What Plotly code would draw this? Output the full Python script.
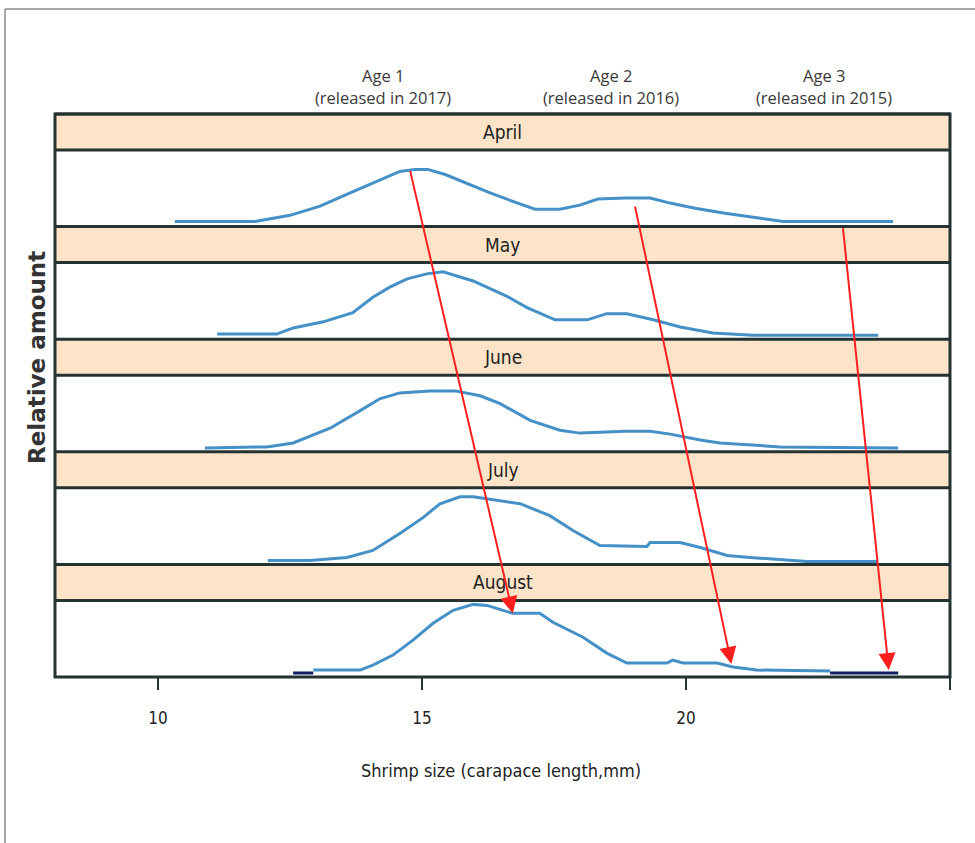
import plotly.graph_objects as go

# ---------------- data ----------------
months = ["April", "May", "June", "July", "August"]

april_x = [10.32, 11.84, 12.50, 13.07, 13.64, 14.20, 14.58, 14.87, 15.11, 15.44, 15.81, 16.29, 16.76,
           17.14, 17.61, 17.99, 18.33, 18.84, 19.32, 19.70, 20.17, 20.74, 21.31, 21.84, 23.92]
april_y = [0.067, 0.067, 0.147, 0.267, 0.44, 0.613, 0.72, 0.747, 0.747, 0.68, 0.573, 0.44, 0.32,
           0.227, 0.227, 0.28, 0.36, 0.373, 0.373, 0.307, 0.24, 0.173, 0.12, 0.067, 0.067]

may_x = [11.12, 12.25, 12.56, 13.13, 13.69, 14.07, 14.39, 14.72, 15.09, 15.40, 15.97, 16.61, 16.99,
         17.52, 18.13, 18.50, 18.88, 19.38, 19.89, 20.51, 21.27, 23.64]
may_y = [0.067, 0.067, 0.147, 0.227, 0.347, 0.547, 0.68, 0.787, 0.853, 0.88, 0.76, 0.56, 0.413,
         0.253, 0.253, 0.333, 0.333, 0.253, 0.16, 0.08, 0.053, 0.053]

june_x = [10.89, 12.06, 12.56, 13.26, 13.83, 14.20, 14.58, 15.15, 15.63, 16.10, 16.48, 17.05, 17.61,
          17.99, 18.37, 18.84, 19.32, 19.70, 20.27, 20.64, 21.78, 24.02]
june_y = [0.051, 0.064, 0.115, 0.308, 0.538, 0.692, 0.769, 0.795, 0.795, 0.731, 0.628, 0.41, 0.282,
          0.244, 0.256, 0.269, 0.269, 0.231, 0.154, 0.115, 0.064, 0.051]

july_x = [12.08, 12.88, 13.58, 14.07, 14.58, 15.02, 15.34, 15.72, 15.97, 16.48, 16.86, 17.42, 17.86,
          18.37, 19.26, 19.32, 19.89, 20.27, 20.78, 21.21, 22.29, 23.62]
july_y = [0.052, 0.052, 0.091, 0.182, 0.403, 0.61, 0.792, 0.883, 0.883, 0.831, 0.792, 0.636, 0.442,
          0.247, 0.234, 0.286, 0.286, 0.221, 0.117, 0.091, 0.039, 0.039]

august_x = [12.94, 13.83, 14.07, 14.45, 14.83, 15.21, 15.59, 15.97, 16.23, 16.72, 17.23, 17.48, 18.05,
            18.50, 18.88, 19.64, 19.75, 19.94, 20.59, 20.89, 21.34, 22.73]
august_y = [0.091, 0.091, 0.156, 0.286, 0.481, 0.701, 0.870, 0.948, 0.935, 0.831, 0.831, 0.714, 0.519,
            0.312, 0.182, 0.182, 0.221, 0.182, 0.182, 0.130, 0.091, 0.078]

# dark segments at the ends of the August curve
august_dark_left_x = [12.56, 12.94]
august_dark_left_y = [0.052, 0.052]
august_dark_right_x = [22.73, 24.02]
august_dark_right_y = [0.052, 0.052]

series_x = [april_x, may_x, june_x, july_x, august_x]
series_y = [april_y, may_y, june_y, july_y, august_y]

# arrows: tail in April panel, head in August panel
arrow_tail_x = [14.77, 19.03, 22.97]
arrow_tail_v = [0.747, 0.28, 0.0]
arrow_head_x = [16.72, 20.86, 23.84]
arrow_head_v = [0.83, 0.17, 0.09]
arrow_tail_panel = [0, 0, 0]
arrow_head_panel = [4, 4, 4]

age_labels = ["Age 1", "Age 2", "Age 3"]
age_sub = ["(released in 2017)", "(released in 2016)", "(released in 2015)"]
age_x = [14.26, 18.58, 22.61]

tick_vals = [10, 15, 20, 25]
tick_text = ["10", "15", "20", ""]
x_range = [8.05, 25.0]

# ---------------- layout geometry ----------------
W, H = 975, 843
M_L, M_R, M_T, M_B = 55, 25, 114, 166
PW = W - M_L - M_R
PH = H - M_T - M_B

def py2paper(py):
    return (H - M_B - py) / PH

def px2paper(px):
    return (px - M_L) / PW

def clamp(v):
    return min(1.0, max(0.0, round(v, 6)))

n = len(months)
unit = 1.0 / n
strip = 36.0 / PH

BLUE = "#4590c6"
NAVY = "#0c1f5e"
PEACH = "#fde4c8"
DARK = "#243232"
RED = "#ff1f1f"
NARROW = "DejaVu Sans Condensed, Liberation Sans Narrow, Arial Narrow, sans-serif"
FRAME_W = 3

fig = go.Figure()
layout = dict(
    width=W, height=H,
    margin=dict(l=M_L, r=M_R, t=M_T, b=M_B),
    paper_bgcolor="white", plot_bgcolor="rgba(0,0,0,0)",
    showlegend=False,
)
shapes = []
annotations = []
panel_dom = []

for i, m in enumerate(months):
    top = clamp(1 - i * unit)
    pd0, pd1 = clamp(top - unit), clamp(top - strip)
    panel_dom.append((pd0, pd1))
    ax_id = "" if i == 0 else str(i + 1)
    xa = "xaxis" + ax_id
    ya = "yaxis" + ax_id
    bottom = (i == n - 1)
    layout[xa] = dict(
        domain=[0, 1], range=x_range, anchor="y" + ax_id,
        showline=False, showgrid=False, zeroline=False,
        tickvals=tick_vals, ticktext=tick_text,
        ticks="outside" if bottom else "", ticklen=12, tickwidth=2, tickcolor=DARK,
        showticklabels=bottom,
        tickfont=dict(family=NARROW, size=17, color="#222"),
        ticklabelstandoff=14,
    )
    layout[ya] = dict(
        domain=[pd0, pd1], range=[0, 1], anchor="x" + ax_id,
        showline=False, showgrid=False, zeroline=False, showticklabels=False, ticks="",
    )
    if bottom:
        for dx, dy in ((august_dark_left_x, august_dark_left_y), (august_dark_right_x, august_dark_right_y)):
            fig.add_trace(go.Scatter(x=dx, y=dy, mode="lines", line=dict(color=NAVY, width=3),
                                     xaxis="x" + ax_id, yaxis="y" + ax_id, hoverinfo="skip"))
    fig.add_trace(go.Scatter(x=series_x[i], y=series_y[i], mode="lines",
                             line=dict(color=BLUE, width=3), xaxis="x" + ax_id, yaxis="y" + ax_id,
                             name=m))
    # strip background
    shapes.append(dict(type="rect", xref="paper", yref="paper", x0=0, x1=1, y0=pd1, y1=top,
                       fillcolor=PEACH, line=dict(width=0), layer="below"))
    # strip separating lines
    for yy in (top, pd1):
        shapes.append(dict(type="line", xref="paper", yref="paper", x0=0, x1=1, y0=yy, y1=yy,
                           line=dict(color=DARK, width=FRAME_W), layer="above"))
    annotations.append(dict(text=m, xref="paper", yref="paper", x=0.5, y=(pd1 + top) / 2,
                            showarrow=False, font=dict(family=NARROW, size=19, color="#222"),
                            xanchor="center", yanchor="middle"))

# outer frame of the stacked panels
shapes.append(dict(type="rect", xref="paper", yref="paper", x0=0, x1=1, y0=0, y1=1,
                   line=dict(color=DARK, width=FRAME_W), fillcolor="rgba(0,0,0,0)", layer="above"))

# overlay axis spanning the whole stack, used to place the arrows
layout["yaxis6"] = dict(domain=[0, 1], range=[0, 1], anchor="x5", visible=False)
fig.add_trace(go.Scatter(x=[None], y=[None], xaxis="x5", yaxis="y6", hoverinfo="skip"))

def to_stack(panel, v):
    d0, d1 = panel_dom[panel]
    return d0 + v * (d1 - d0)

for tx, tp, tv, hx, hp, hv in zip(arrow_tail_x, arrow_tail_panel, arrow_tail_v,
                                  arrow_head_x, arrow_head_panel, arrow_head_v):
    annotations.append(dict(
        x=hx, y=to_stack(hp, hv), xref="x5", yref="y6",
        ax=tx, ay=to_stack(tp, tv), axref="x5", ayref="y6",
        text="", showarrow=True, arrowhead=2, arrowsize=1.7, arrowwidth=2,
        arrowcolor=RED, standoff=0, startstandoff=0,
    ))

AGE_FONT = dict(family="Open Sans, sans-serif", size=16.5, color="#3a3a3a")
for lab, sub, x in zip(age_labels, age_sub, age_x):
    annotations.append(dict(text=lab, x=x, xref="x5", y=py2paper(75), yref="paper",
                            showarrow=False, font=AGE_FONT, xanchor="center", yanchor="middle"))
    annotations.append(dict(text=sub, x=x, xref="x5", y=py2paper(98), yref="paper",
                            showarrow=False, font=AGE_FONT, xanchor="center", yanchor="middle"))

annotations.append(dict(text="Relative amount", x=px2paper(37), y=py2paper(358), xref="paper", yref="paper",
                        textangle=-90, showarrow=False,
                        font=dict(family="DejaVu Sans, sans-serif", size=23, color="#333", weight="bold"),
                        xanchor="center", yanchor="middle"))
annotations.append(dict(text="Shrimp size (carapace length,mm)", x=px2paper(501), y=py2paper(770),
                        xref="paper", yref="paper", showarrow=False,
                        font=dict(family=NARROW, size=18, color="#222"),
                        xanchor="center", yanchor="middle"))

# outer grey frame of the picture
shapes.append(dict(type="line", xref="paper", yref="paper", x0=px2paper(5), x1=px2paper(5),
                   y0=py2paper(9), y1=py2paper(H + 5), line=dict(color="#8a8a8a", width=1.5)))
shapes.append(dict(type="line", xref="paper", yref="paper", x0=px2paper(5), x1=px2paper(W + 5),
                   y0=py2paper(9), y1=py2paper(9), line=dict(color="#8a8a8a", width=1.5)))

layout["shapes"] = shapes
layout["annotations"] = annotations
fig.update_layout(**layout)
fig.write_html("out.html")
